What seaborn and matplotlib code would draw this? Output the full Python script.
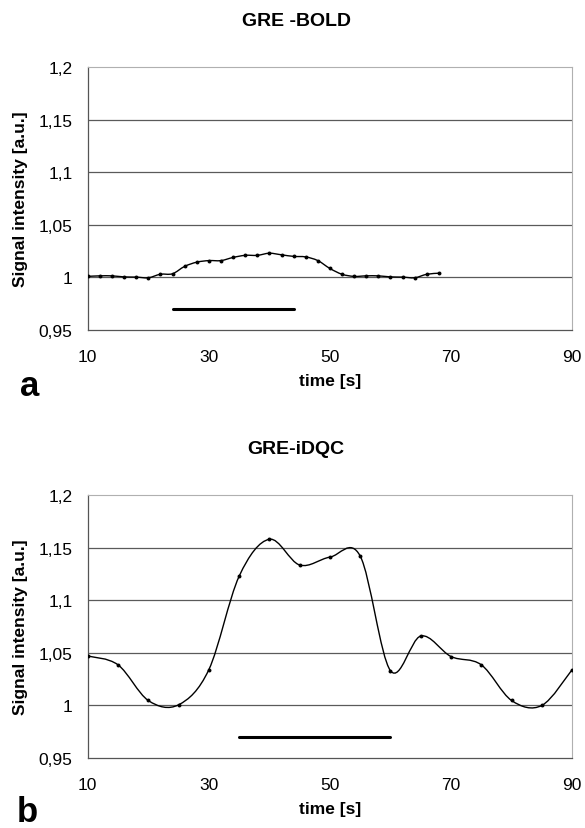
import numpy as np
import seaborn as sns
import matplotlib
matplotlib.use("Agg")
import matplotlib.pyplot as plt
from matplotlib.path import Path
from matplotlib.patches import PathPatch

# GRE-BOLD time course (sampled every 2 s)
bold_time = [10, 12, 14, 16, 18, 20, 22, 24, 26, 28, 30, 32, 34, 36, 38, 40,
             42, 44, 46, 48, 50, 52, 54, 56, 58, 60, 62, 64, 66, 68]
bold_signal = [1.001, 1.0015, 1.0015, 1.0005, 1.0003, 0.9997, 1.003, 1.0035,
               1.0105, 1.0145, 1.016, 1.016, 1.019, 1.021, 1.021, 1.023,
               1.0215, 1.020, 1.0195, 1.016, 1.0085, 1.003, 1.001, 1.0015,
               1.0015, 1.0005, 1.0003, 0.9997, 1.003, 1.004]

# GRE-iDQC time course (sampled every 5 s)
dqc_time = [10, 15, 20, 25, 30, 35, 40, 45, 50, 55, 60, 65, 70, 75, 80, 85, 90]
dqc_signal = [1.047, 1.0386, 1.0047, 1.0006, 1.034, 1.1228, 1.158, 1.1335,
              1.141, 1.142, 1.033, 1.066, 1.0465, 1.0386, 1.0047, 1.0, 1.034]

# stimulation periods
stim_bold = [24, 44]
stim_dqc = [35, 60]
stim_level = 0.97

x_ticks = [10, 30, 50, 70, 90]
y_ticks = [0.95, 1.0, 1.05, 1.1, 1.15, 1.2]
y_labels = ["0,95", "1", "1,05", "1,1", "1,15", "1,2"]

sns.set_style("white")
plt.rcParams['font.family'] = ['Liberation Sans', 'DejaVu Sans']
plt.rcParams['text.color'] = 'black'
plt.rcParams['axes.labelcolor'] = 'black'
plt.rcParams['xtick.labelcolor'] = 'black'
plt.rcParams['ytick.labelcolor'] = 'black'


def smooth_path(x, y):
    # Excel-style smoothed line: Catmull-Rom segments as cubic Bezier curves
    pts = np.column_stack([x, y]).astype(float)
    n = len(pts)
    verts = [pts[0]]
    codes = [Path.MOVETO]
    for i in range(n - 1):
        p0 = pts[max(i - 1, 0)]
        p1 = pts[i]
        p2 = pts[i + 1]
        p3 = pts[min(i + 2, n - 1)]
        c1 = p1 + (p2 - p0) / 6.0
        c2 = p2 - (p3 - p1) / 6.0
        verts += [c1, c2, p2]
        codes += [Path.CURVE4] * 3
    return Path(verts, codes)


def draw_panel(ax, t, s, stim):
    ax.add_patch(PathPatch(smooth_path(t, s), fill=False, color="black", lw=1.0))
    sns.scatterplot(x=t, y=s, ax=ax, color="black", s=8, marker="o",
                    edgecolor="black", linewidth=0, zorder=3)
    ax.plot(stim, [stim_level, stim_level], color="black", lw=2.2)

    ax.set_xlim(10, 90)
    ax.set_ylim(0.95, 1.2)
    ax.set_xticks(x_ticks)
    ax.set_yticks(y_ticks)
    ax.set_yticklabels(y_labels)
    ax.tick_params(axis="both", labelsize=12.5, length=5, width=0.8,
                   direction="out", color="#555555", labelcolor="black")
    ax.tick_params(axis="x", pad=9)
    ax.tick_params(axis="y", pad=6)
    for yv in y_ticks[1:-1]:
        ax.axhline(yv, color="#5a5a5a", lw=0.9, zorder=0)
    for side in ["left", "bottom"]:
        ax.spines[side].set_color("#555555")
        ax.spines[side].set_linewidth(0.9)
    for side in ["top", "right"]:
        ax.spines[side].set_color("#b0b0b0")
        ax.spines[side].set_linewidth(0.8)

    ax.set_xlabel("time [s]", fontsize=12.5, fontweight="bold", labelpad=6,
                  color="black")
    ax.set_ylabel("Signal intensity [a.u.]", fontsize=12.5, fontweight="bold",
                  color="black")
    ax.yaxis.set_label_coords(-0.124, 0.5)


fig = plt.figure(figsize=(5.85, 8.29), dpi=100)
ax_a = fig.add_axes([0.150, 0.6007, 0.828, 0.3172])
ax_b = fig.add_axes([0.150, 0.0844, 0.828, 0.3172])

draw_panel(ax_a, bold_time, bold_signal, stim_bold)
draw_panel(ax_b, dqc_time, dqc_signal, stim_dqc)

fig.text(0.506, 0.974, "GRE -BOLD", fontsize=14, fontweight="bold",
         ha="center", va="center", color="black")
fig.text(0.506, 0.458, "GRE-iDQC", fontsize=14, fontweight="bold",
         ha="center", va="center", color="black")
fig.text(0.034, 0.522, "a", fontsize=25, fontweight="bold",
         ha="left", va="baseline", color="black")
fig.text(0.028, 0.0, "b", fontsize=25, fontweight="bold",
         ha="left", va="bottom", color="black")

fig.savefig("out.png", dpi=100)
